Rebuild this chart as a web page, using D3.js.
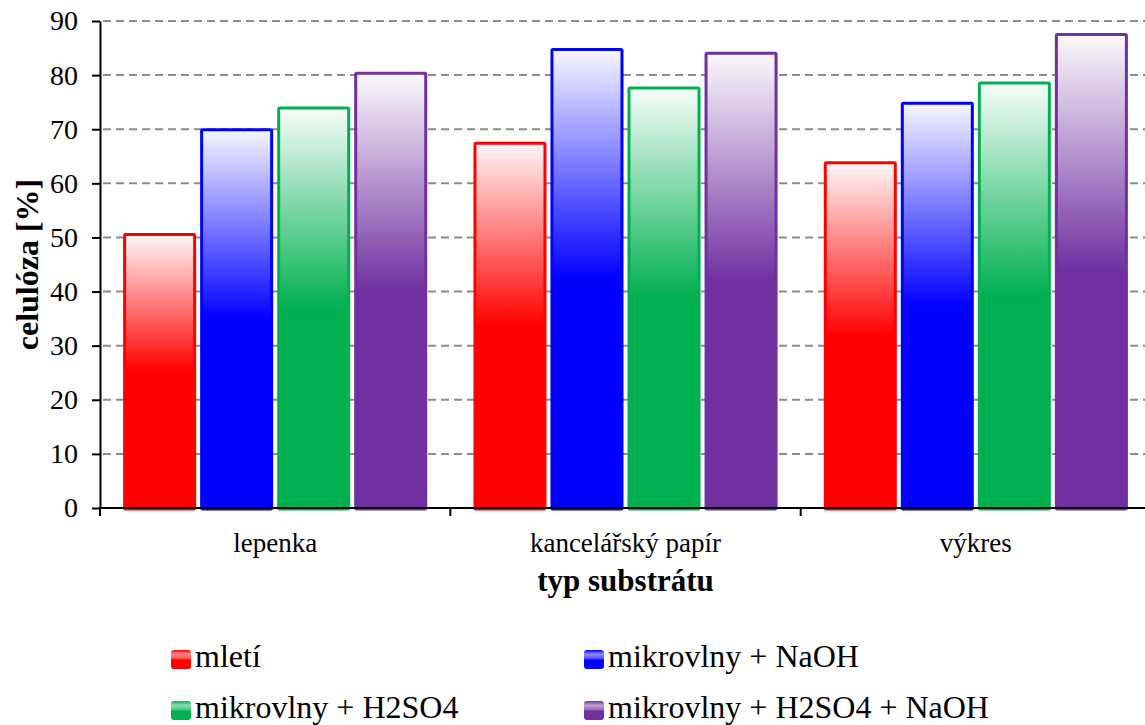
<!DOCTYPE html>
<html>
<head>
<meta charset="utf-8">
<title>celulóza podle typu substrátu</title>
<script src="https://d3js.org/d3.v7.min.js"></script>
<style>
  body { margin: 0; background: #fff; }
  svg { display: block; }
</style>
</head>
<body>
<svg id="chart"></svg>
<script>
// data
var categories = ["lepenka", "kancelářský papír", "výkres"];
var series = ["mletí", "mikrovlny + NaOH", "mikrovlny + H2SO4", "mikrovlny + H2SO4 + NaOH"];
var colors = ["#ff0000", "#0000ff", "#00b050", "#7030a0"];
var mleti = [50.8, 67.7, 64.1];
var mikroNaOH = [70.2, 85.0, 75.1];
var mikroH2SO4 = [74.2, 77.9, 78.8];
var mikroH2SO4NaOH = [80.6, 84.3, 87.8];
var values = [mleti, mikroNaOH, mikroH2SO4, mikroH2SO4NaOH];
var yTicks = [0, 10, 20, 30, 40, 50, 60, 70, 80, 90];

var FONT = "Liberation Serif";
var W = 1145, H = 725;
var svg = d3.select("#chart").attr("width", W).attr("height", H);

var x = d3.scaleBand().domain(categories).range([100, 1151]).padding(0);
var xs = d3.scaleBand().domain(series).range([0, x.bandwidth()])
  .paddingInner(0.052).paddingOuter(0.3);
var y = d3.scaleLinear().domain([0, 90]).range([508, 21]);

// gradients
var defs = svg.append("defs");
colors.forEach(function(c, i) {
  var g = defs.append("linearGradient").attr("id", "bar" + i)
    .attr("x1", 0).attr("y1", 0).attr("x2", 0).attr("y2", 1);
  g.append("stop").attr("offset", "0%").attr("stop-color", d3.interpolateRgb("#fff", c)(0.03));
  g.append("stop").attr("offset", "50%").attr("stop-color", c);
  g.append("stop").attr("offset", "100%").attr("stop-color", c);

  var l = defs.append("linearGradient").attr("id", "leg" + i)
    .attr("x1", 0).attr("y1", 0).attr("x2", 0).attr("y2", 1);
  l.append("stop").attr("offset", "0%").attr("stop-color", c);
  l.append("stop").attr("offset", "22%").attr("stop-color", d3.interpolateRgb(c, "#fff")(0.55));
  l.append("stop").attr("offset", "42%").attr("stop-color", d3.interpolateRgb(c, "#fff")(0.35));
  l.append("stop").attr("offset", "55%").attr("stop-color", c);
  l.append("stop").attr("offset", "100%").attr("stop-color", c);
});

// gridlines
svg.append("g").selectAll("line")
  .data(yTicks.filter(function(t) { return t > 0; }))
  .enter().append("line")
  .attr("x1", 103).attr("x2", W)
  .attr("y1", function(d) { return y(d); })
  .attr("y2", function(d) { return y(d); })
  .attr("stroke", "#8c8c8c")
  .attr("stroke-width", 2)
  .attr("stroke-dasharray", "8,5");

// bars
var groups = svg.append("g").selectAll("g")
  .data(series)
  .enter().append("g");

groups.selectAll("rect")
  .data(function(s, i) {
    return categories.map(function(c, j) { return { cat: c, s: s, i: i, v: values[i][j] }; });
  })
  .enter().append("rect")
  .attr("x", function(d) { return x(d.cat) + xs(d.s) + 1.5; })
  .attr("y", function(d) { return y(d.v) + 1.5; })
  .attr("width", xs.bandwidth() - 3)
  .attr("height", function(d) { return y(0) + 1 - y(d.v) - 1.5; })
  .attr("rx", 1)
  .attr("fill", function(d) { return "url(#bar" + d.i + ")"; })
  .attr("stroke", function(d) { return colors[d.i]; })
  .attr("stroke-width", 3);

// y axis
var yAxis = svg.append("g")
  .attr("transform", "translate(100,0)")
  .call(d3.axisLeft(y).tickValues(yTicks).tickSize(8).tickSizeOuter(0).tickPadding(14));
yAxis.attr("font-family", FONT).attr("font-size", 28);
yAxis.select(".domain").attr("stroke", "#000").attr("stroke-width", 2);
yAxis.selectAll(".tick line").attr("stroke", "#000").attr("stroke-width", 2);
yAxis.selectAll(".tick text")
  .attr("font-family", FONT)
  .attr("font-size", 28).attr("fill", "#000");

// x axis
svg.append("line")
  .attr("x1", 99).attr("x2", W)
  .attr("y1", y(0)).attr("y2", y(0))
  .attr("stroke", "#000").attr("stroke-width", 2);

svg.append("g").selectAll("line")
  .data(categories)
  .enter().append("line")
  .attr("x1", function(d) { return x(d); })
  .attr("x2", function(d) { return x(d); })
  .attr("y1", y(0)).attr("y2", y(0) + 8)
  .attr("stroke", "#000").attr("stroke-width", 2);

svg.append("g").selectAll("text")
  .data(categories)
  .enter().append("text")
  .attr("x", function(d) { return x(d) + x.bandwidth() / 2; })
  .attr("y", 552)
  .attr("text-anchor", "middle")
  .attr("font-family", FONT)
  .attr("font-size", 27)
  .text(function(d) { return d; });

// axis titles
svg.append("text")
  .attr("x", (x.range()[0] + x.range()[1]) / 2)
  .attr("y", 591)
  .attr("text-anchor", "middle")
  .attr("font-family", FONT)
  .attr("font-size", 31)
  .attr("font-weight", "bold")
  .text("typ substrátu");

svg.append("text")
  .attr("transform", "translate(38," + (y(45)) + ") rotate(-90)")
  .attr("text-anchor", "middle")
  .attr("font-family", FONT)
  .attr("font-size", 32)
  .attr("font-weight", "bold")
  .text("celulóza [%]");

// legend
var legend = svg.append("g").selectAll("g")
  .data(series)
  .enter().append("g")
  .attr("transform", function(d, i) {
    return "translate(" + (i % 2 === 0 ? 171 : 584) + "," + (i < 2 ? 650 : 701) + ")";
  });

legend.append("rect")
  .attr("width", 20).attr("height", 19)
  .attr("rx", 3)
  .attr("fill", function(d, i) { return "url(#leg" + i + ")"; });

legend.append("text")
  .attr("x", 24)
  .attr("y", 17)
  .attr("font-family", FONT)
  .attr("font-size", 32)
  .text(function(d) { return d; });
</script>
</body>
</html>
